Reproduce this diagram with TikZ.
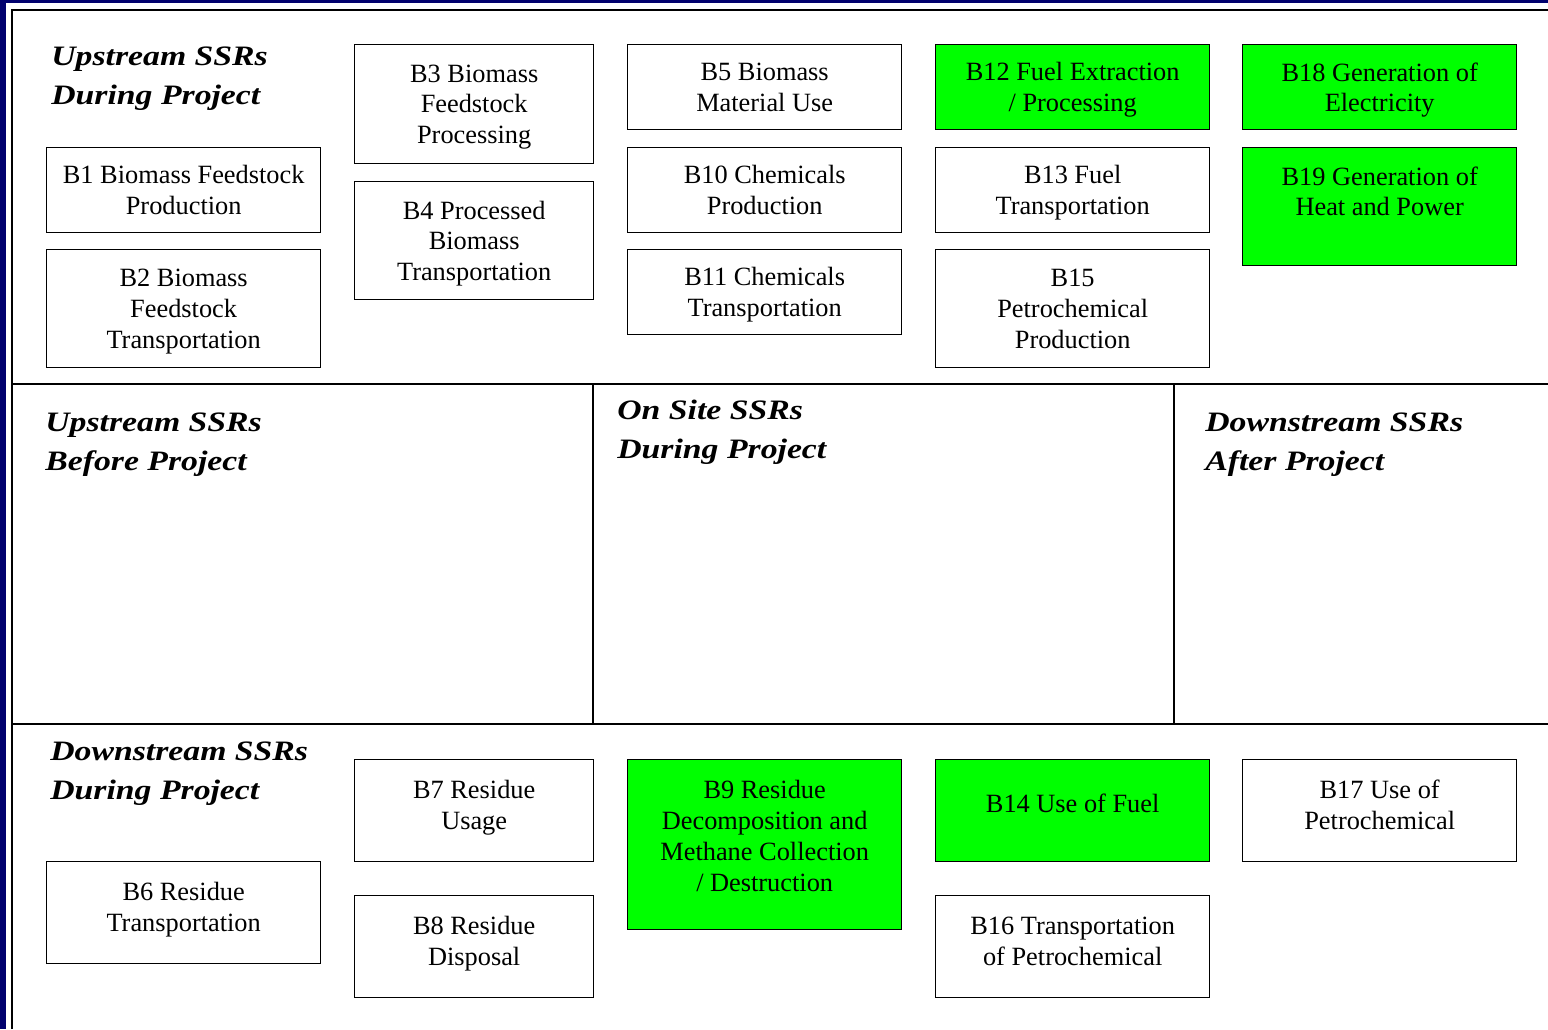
\documentclass[tikz,border=0pt]{standalone}
\usepackage{tikz}
\usepackage{fontspec}
\setmainfont{Liberation Serif}
\newfontfamily\headfont[FakeStretch=1.2]{Liberation Serif}
\definecolor{slideblue}{RGB}{0,0,110}
\definecolor{fuelgreen}{RGB}{0,255,0}

\begin{document}
\begin{tikzpicture}[x=0.02cm, y=-0.02cm,
	frame/.style={line width=1.2pt},
	box/.style={draw, line width=0.8pt, align=center, inner sep=0pt, anchor=north west,
		text depth=0pt, font=\fontsize{15}{17.5}\selectfont},
	fuel/.style={box, fill=fuelgreen},
	lifted/.style={text depth=6.6pt},
	wide/.style={minimum width=5.48cm},
	narrow/.style={minimum width=4.78cm},
	head/.style={anchor=base west, align=left, inner sep=0pt,
		font=\headfont\bfseries\itshape\fontsize{16}{21.8}\selectfont}]

	% Fondo
	\useasboundingbox (0,0) rectangle (1548,1029);
	\fill[slideblue] (0,0) rectangle (1548,1029);
	\fill[white] (6,3) rectangle (1548,1029);

	% Marco
	\draw[frame] (12,1029) -- (12,10) -- (1548,10);
	\draw[frame] (12,384) -- (1548,384);
	\draw[frame] (12,724) -- (1548,724);
	\draw[frame] (593,384) -- (593,724);
	\draw[frame] (1174,384) -- (1174,724);

	% Titulos
	\node[head] (upDuring) at (51,104) {Upstream SSRs\\During Project};
	\node[head] (upBefore) at (45,470) {Upstream SSRs\\Before Project};
	\node[head] (onSite) at (617,458) {On Site SSRs\\During Project};
	\node[head] (downAfter) at (1205,470) {Downstream SSRs\\After Project};
	\node[head] (downDuring) at (50,799) {Downstream SSRs\\During Project};

	% Arriba
	\node[box, wide, minimum height=1.7cm] (b1) at (46,147) {B1 Biomass Feedstock\\Production};
	\node[box, wide, minimum height=2.36cm] (b2) at (46,249) {B2 Biomass\\Feedstock\\Transportation};
	\node[box, narrow, minimum height=2.38cm] (b3) at (354,44) {B3 Biomass\\Feedstock\\Processing};
	\node[box, narrow, minimum height=2.36cm] (b4) at (354,181) {B4 Processed\\Biomass\\Transportation};
	\node[box, wide, minimum height=1.7cm] (b5) at (627,44) {B5 Biomass\\Material Use};
	\node[box, wide, minimum height=1.7cm] (b10) at (627,147) {B10 Chemicals\\Production};
	\node[box, wide, minimum height=1.7cm] (b11) at (627,249) {B11 Chemicals\\Transportation};
	\node[fuel, wide, minimum height=1.7cm] (b12) at (935,44) {B12 Fuel Extraction\\/ Processing};
	\node[box, wide, minimum height=1.7cm] (b13) at (935,147) {B13 Fuel\\Transportation};
	\node[box, wide, minimum height=2.36cm] (b15) at (935,249) {B15\\Petrochemical\\Production};
	\node[fuel, wide, minimum height=1.7cm] (b18) at (1242,44) {B18 Generation of\\Electricity};
	\node[fuel, wide, minimum height=2.36cm] (b19) at (1242,147) {B19 Generation of\\Heat and Power\\\mbox{}};

	% Abajo
	\node[box, lifted, wide, minimum height=2.04cm] (b6) at (46,861) {B6 Residue\\Transportation};
	\node[box, lifted, narrow, minimum height=2.04cm] (b7) at (354,759) {B7 Residue\\Usage};
	\node[box, lifted, narrow, minimum height=2.04cm] (b8) at (354,895) {B8 Residue\\Disposal};
	\node[fuel, wide, minimum height=3.4cm, text depth=10pt] (b9) at (627,759) {B9 Residue\\Decomposition and\\Methane Collection\\/ Destruction};
	\node[fuel, wide, minimum height=2.04cm, text depth=9pt] (b14) at (935,759) {B14 Use of Fuel};
	\node[box, lifted, wide, minimum height=2.04cm] (b16) at (935,895) {B16 Transportation\\of Petrochemical};
	\node[box, lifted, wide, minimum height=2.04cm] (b17) at (1242,759) {B17 Use of\\Petrochemical};

\end{tikzpicture}
\end{document}
